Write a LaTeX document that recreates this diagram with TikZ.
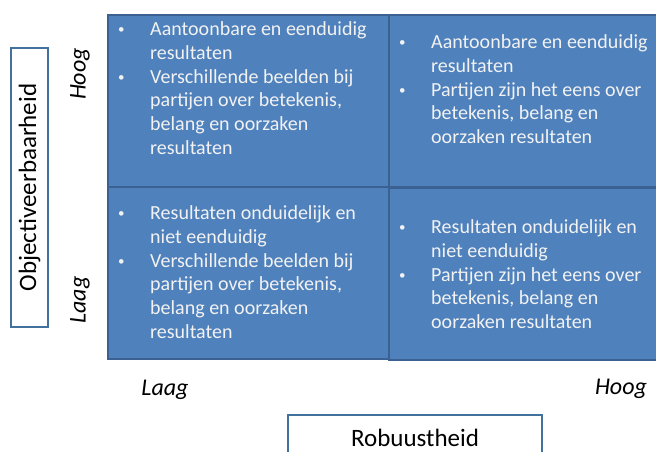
\documentclass[tikz,border=0pt]{standalone}
\usepackage{fontspec}
\setmainfont{Carlito}
\definecolor{cellfill}{HTML}{4F81BD}
\definecolor{celledge}{HTML}{3A6191}
\definecolor{labeledge}{HTML}{41719C}
\newcommand{\bul}{\raisebox{2pt}{\fontsize{13}{13}\selectfont\textbullet}}
\begin{document}
\begin{tikzpicture}[x=1pt, y=-1pt,
      cell/.style={draw=celledge, line width=2pt, fill=cellfill, inner sep=0pt,
         anchor=north west, minimum width=292pt, minimum height=172pt},
      celltext/.style={anchor=base west, inner sep=0pt, text=white!95!black,
         font=\fontsize{20}{23.8}\selectfont},
      axistext/.style={inner sep=0pt, font=\fontsize{24}{28}\selectfont\itshape},
      labelbox/.style={draw=labeledge, line width=1.5pt, inner sep=0pt,
         font=\fontsize{25}{30}\selectfont}]
   \useasboundingbox (0, 0) rectangle (656, 451);
   \clip (0, 0) rectangle (656, 451);
   \foreach \n/\x/\y in {tl/107/14, tr/388/14, bl/107/186, br/388/187} {
      \node[cell] (\n cell) at (\x, \y) {};
   }
   \node[celltext] (tl text) at (118, 35.5) {\begin{tabular}[t]{@{}p{32pt}@{}l@{}}
      \bul & Aantoonbare en eenduidig\\
      & resultaten\\
      \bul & Verschillende beelden bij\\
      & partijen over betekenis,\\
      & belang en oorzaken\\
      & resultaten
   \end{tabular}};
   \node[celltext] (tr text) at (399, 48.5) {\begin{tabular}[t]{@{}p{32pt}@{}l@{}}
      \bul & Aantoonbare en eenduidig\\
      & resultaten\\
      \bul & Partijen zijn het eens over\\
      & betekenis, belang en\\
      & oorzaken resultaten
   \end{tabular}};
   \node[celltext] (bl text) at (118, 219.5) {\begin{tabular}[t]{@{}p{32pt}@{}l@{}}
      \bul & Resultaten onduidelijk en\\
      & niet eenduidig\\
      \bul & Verschillende beelden bij\\
      & partijen over betekenis,\\
      & belang en oorzaken\\
      & resultaten
   \end{tabular}};
   \node[celltext] (br text) at (399, 233.5) {\begin{tabular}[t]{@{}p{32pt}@{}l@{}}
      \bul & Resultaten onduidelijk en\\
      & niet eenduidig\\
      \bul & Partijen zijn het eens over\\
      & betekenis, belang en\\
      & oorzaken resultaten
   \end{tabular}};
   \node[axistext, rotate=90] (y hoog) at (80, 74) {Hoog};
   \node[axistext, rotate=90] (y laag) at (80, 300) {Laag};
   \node[axistext] (x laag) at (165, 390) {Laag};
   \node[axistext] (x hoog) at (621, 389) {Hoog};
   \node[labelbox, rotate=90, minimum width=279pt, minimum height=37pt]
      (y label) at (29.5, 187.5) {Objectiveerbaarheid};
   \node[labelbox, minimum width=254pt, minimum height=45pt]
      (x label) at (415, 437.5) {Robuustheid};
\end{tikzpicture}
\end{document}
